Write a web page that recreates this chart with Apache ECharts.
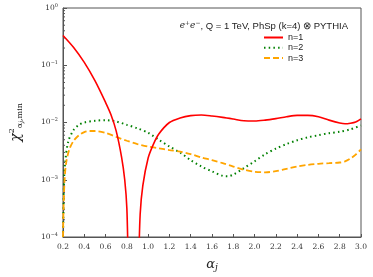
<!DOCTYPE html>
<html>
<head>
<meta charset="utf-8">
<script src="https://cdn.jsdelivr.net/npm/echarts@6/dist/echarts.min.js"></script>
<style>
html,body{margin:0;padding:0;background:#fff;}
#c{width:373px;height:277px;}
</style>
</head>
<body>
<div id="c"></div>
<script>
// ---- data ----
const xTicks = [0.2,0.4,0.6,0.8,1.0,1.2,1.4,1.6,1.8,2.0,2.2,2.4,2.6,2.8,3.0];
const yTickExponents = [-4,-3,-2,-1,0];

const n1LeftAlpha  = [0.2, 0.3, 0.4, 0.5, 0.6, 0.65, 0.7, 0.75, 0.78, 0.80, 0.812];
const n1LeftValue  = [0.331, 0.204, 0.112, 0.0537, 0.0224, 0.0138, 0.00708, 0.00251, 0.001, 3.16e-4, 3.2e-5];
const n1RightAlpha = [0.912, 0.925, 0.95, 1.0, 1.05, 1.1, 1.2, 1.3, 1.4, 1.5, 1.6, 1.7, 1.8, 1.9, 2.0, 2.1, 2.2, 2.3, 2.4, 2.5, 2.6, 2.7, 2.8, 2.85, 2.9, 2.95, 3.0];
const n1RightValue = [3.2e-5, 2.5e-4, 7.9e-4, 2.4e-3, 4.2e-3, 6.3e-3, 0.010, 0.012, 0.0132, 0.0135, 0.013, 0.0123, 0.0115, 0.0107, 0.0106, 0.011, 0.0117, 0.0126, 0.0133, 0.0133, 0.0126, 0.011, 0.0098, 0.0095, 0.0097, 0.0102, 0.0116];

const n2Alpha = [0.2, 0.205, 0.21, 0.22, 0.25, 0.3, 0.35, 0.4, 0.5, 0.6, 0.7, 0.8, 0.9, 1.0, 1.1, 1.2, 1.3, 1.4, 1.5, 1.6, 1.7, 1.75, 1.8, 1.9, 2.0, 2.1, 2.2, 2.3, 2.4, 2.5, 2.6, 2.7, 2.8, 2.9, 3.0];
const n2Value = [1e-4, 3.2e-4, 1e-3, 2e-3, 4.7e-3, 7.4e-3, 9.1e-3, 0.01, 0.0107, 0.011, 0.0104, 0.0091, 0.0079, 0.0066, 0.005, 0.0038, 0.003, 0.0022, 0.0017, 0.0014, 0.00117, 0.00115, 0.00123, 0.0016, 0.0021, 0.0028, 0.0035, 0.0042, 0.0049, 0.0055, 0.006, 0.0065, 0.0069, 0.0076, 0.0089];

const n3Alpha = [0.2, 0.205, 0.215, 0.23, 0.26, 0.3, 0.35, 0.4, 0.45, 0.5, 0.6, 0.7, 0.8, 0.9, 1.0, 1.1, 1.2, 1.3, 1.4, 1.5, 1.6, 1.7, 1.8, 1.9, 2.0, 2.1, 2.2, 2.3, 2.4, 2.5, 2.6, 2.7, 2.8, 2.85, 2.9, 2.95, 3.0];
const n3Value = [1e-4, 3.2e-4, 1e-3, 2e-3, 3.4e-3, 4.8e-3, 6e-3, 6.8e-3, 7.1e-3, 7.1e-3, 6.6e-3, 5.6e-3, 4.8e-3, 4.2e-3, 3.8e-3, 3.55e-3, 3.3e-3, 3.1e-3, 2.8e-3, 2.45e-3, 2.2e-3, 1.95e-3, 1.7e-3, 1.5e-3, 1.38e-3, 1.35e-3, 1.41e-3, 1.55e-3, 1.7e-3, 1.82e-3, 1.9e-3, 1.95e-3, 2e-3, 2.1e-3, 2.35e-3, 2.75e-3, 3.4e-3];

const seriesNames = ['n=1','n=2','n=3'];

// ---- build ----
const zip = (a,b) => a.map((x,i)=>[x,b[i]]);
const n1Data = zip(n1LeftAlpha,n1LeftValue).concat([[0.86,null]]).concat(zip(n1RightAlpha,n1RightValue));
const minorVals = [];
for (let e=-4;e<0;e++) for (let m=2;m<=9;m++) minorVals.push(m*Math.pow(10,e));

const supMap = {'-4':'−4','-3':'−3','-2':'−2','-1':'−1','0':'0'};
const serif = 'DejaVu Serif';
const sans = 'Liberation Sans';

const chart = echarts.init(document.getElementById('c'));
chart.setOption({
  animation:false,
  backgroundColor:'#fff',
  grid:{left:55,right:12,top:8,bottom:40,show:true,borderColor:'#555',borderWidth:1},
  title:{
    text:'{i|e}{s|+}{i|e}{s|−}{n|, Q = 1 TeV, PhSp (k=4) ⊗ PYTHIA}',
    right:20, top:15,
    textStyle:{
      fontWeight:'normal',
      rich:{
        i:{fontFamily:serif,fontStyle:'italic',fontWeight:'normal',fontSize:9,color:'#222'},
        s:{fontFamily:serif,fontWeight:'normal',fontSize:6,color:'#222',padding:[0,0,6,0]},
        n:{fontFamily:sans,fontWeight:'normal',fontSize:9.5,color:'#222'}
      }
    }
  },
  legend:{
    orient:'vertical', left:258, top:28,
    itemWidth:19, itemHeight:10, itemGap:1.3,
    data:seriesNames,
    itemStyle:{opacity:0},
    textStyle:{fontFamily:sans,fontSize:9,color:'#222'}
  },
  xAxis:{
    type:'value', min:0.2, max:3.0, interval:0.2,
    name:'{a|α}{j|j}', nameLocation:'middle', nameGap:20,
    nameTextStyle:{rich:{a:{fontFamily:serif,fontStyle:'italic',fontSize:13,color:'#222'},j:{fontFamily:serif,fontStyle:'italic',fontSize:9,color:'#222',padding:[6,0,0,0]}}},
    axisLine:{lineStyle:{color:'#555'}},
    axisTick:{inside:true,length:3,lineStyle:{color:'#555'}},
    axisLabel:{fontFamily:serif,fontSize:7.5,color:'#333',margin:6,formatter:v=>v.toFixed(1)},
    splitLine:{show:false}
  },
  yAxis:{
    type:'log', logBase:10, min:1e-4, max:1,
    name:'{c|χ}{p|2}{b|α}{bb|j}{b|,min}', nameLocation:'middle', nameGap:38,
    nameTextStyle:{rich:{
      c:{fontFamily:serif,fontStyle:'italic',fontSize:14,color:'#222'},
      p:{fontFamily:serif,fontSize:8,color:'#222',padding:[0,0,9,0]},
      b:{fontFamily:serif,fontSize:8,color:'#222',padding:[6,0,0,0]},
      bb:{fontFamily:serif,fontStyle:'italic',fontSize:6,color:'#222',padding:[9,0,0,0]}
    }},
    axisLine:{lineStyle:{color:'#555'}},
    axisTick:{inside:true,length:4,lineStyle:{color:'#555'}},
    axisLabel:{
      margin:5,
      formatter:v=>{const e=Math.round(Math.log10(v));return '{b|10}{s|'+supMap[String(e)]+'}';},
      rich:{
        b:{fontFamily:serif,fontSize:7.5,color:'#333'},
        s:{fontFamily:serif,fontSize:5,color:'#333',padding:[0,0,5,0]}
      }
    },
    splitLine:{show:false}
  },
  series:[
    {name:'n=1',type:'line',data:n1Data,showSymbol:false,symbol:'none',smooth:0.3,connectNulls:false,
     lineStyle:{color:'#ff0000',width:1.6},itemStyle:{color:'#ff0000'},clip:true,z:3},
    {name:'n=2',type:'line',data:zip(n2Alpha,n2Value),showSymbol:false,symbol:'none',smooth:0.3,
     lineStyle:{color:'#008000',width:2,type:[1.5,3.2]},itemStyle:{color:'#008000'},clip:true,z:2},
    {name:'n=3',type:'line',data:zip(n3Alpha,n3Value),showSymbol:false,symbol:'none',smooth:0.3,
     lineStyle:{color:'#ffa500',width:1.8,type:[6,3]},itemStyle:{color:'#ffa500'},clip:true,z:2},
    {type:'custom',silent:true,data:minorVals.map(v=>[0.2,v]),
     renderItem:(params,api)=>{const p=api.coord([api.value(0),api.value(1)]);
       return {type:'line',shape:{x1:p[0],y1:p[1],x2:p[0]+2,y2:p[1]},style:{stroke:'#555',lineWidth:1}};},
     clip:true,z:1}
  ]
});
</script>
</body>
</html>
